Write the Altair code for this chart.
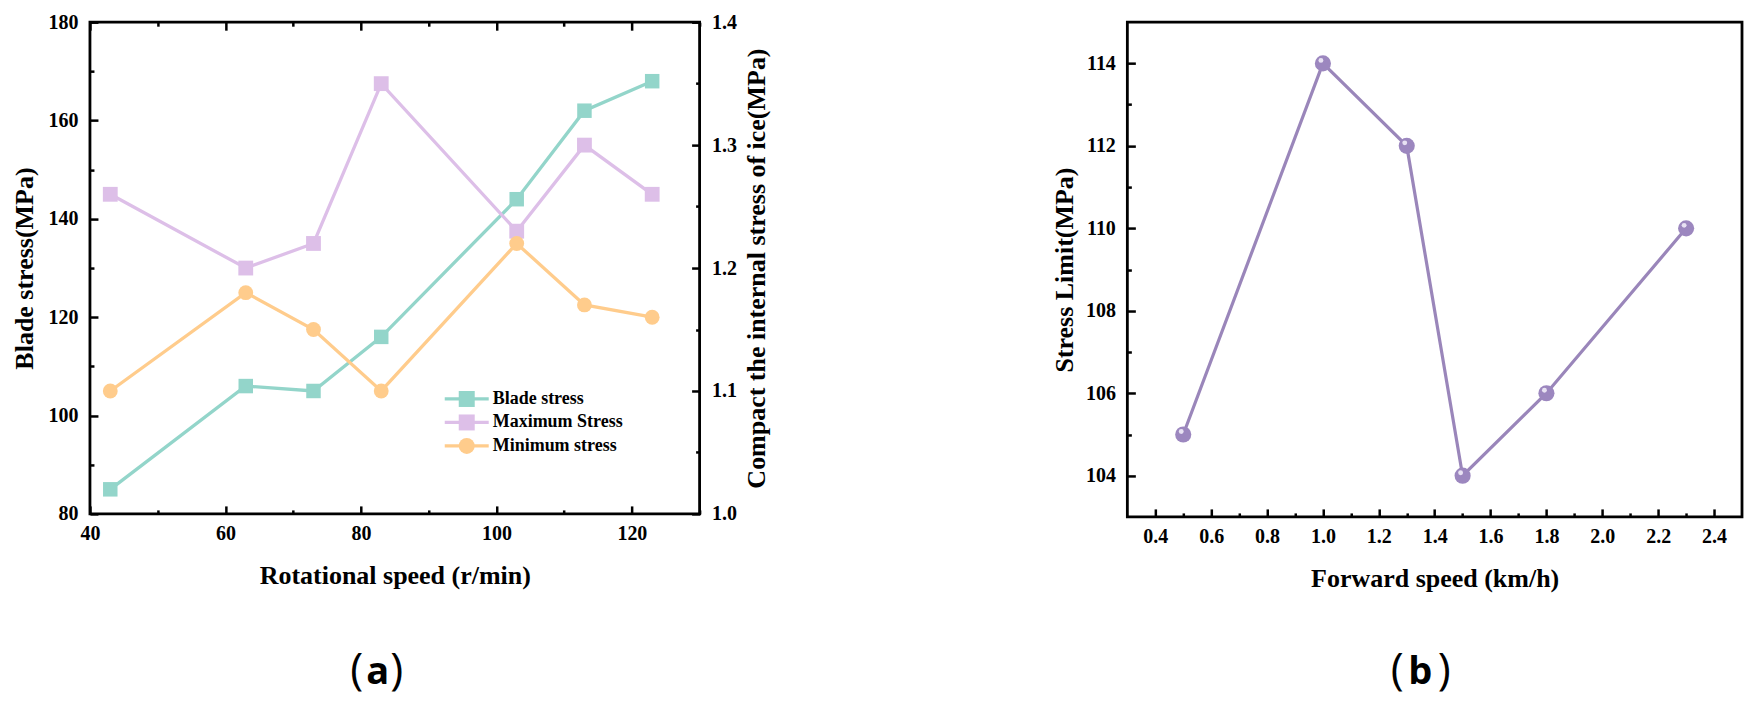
import altair as alt
import pandas as pd

# ---------------- data: panel (a) ----------------
rot_speed = [43, 63, 73, 83, 103, 113, 123]
blade_stress = [85, 106, 105, 116, 144, 162, 168]
max_ice_stress = [1.26, 1.20, 1.22, 1.35, 1.23, 1.30, 1.26]
min_ice_stress = [1.10, 1.18, 1.15, 1.10, 1.22, 1.17, 1.16]
series_names = ["Blade stress", "Maximum Stress", "Minimum stress"]
series_colors = ["#93D5CA", "#DDBFE8", "#FFCC8C"]
series_shapes = ["square", "square", "circle"]

# ---------------- data: panel (b) ----------------
fwd_speed = [0.5, 1.0, 1.3, 1.5, 1.8, 2.3]
stress_limit = [105, 114, 112, 104, 106, 110]

# ---------------- tick values ----------------
a_x_ticks = list(range(40, 131, 10))
a_yl_ticks = list(range(80, 181, 10))
a_yr_ticks = [round(1.0 + 0.05 * i, 2) for i in range(9)]
b_x_ticks = [round(0.4 + 0.1 * i, 1) for i in range(21)]
b_y_ticks = list(range(104, 115))

SERIF = "Liberation Serif"

df_blade = pd.DataFrame({"speed": rot_speed, "value": blade_stress,
                         "series": series_names[0]})
df_ice = pd.concat([
    pd.DataFrame({"speed": rot_speed, "value": max_ice_stress, "series": series_names[1]}),
    pd.DataFrame({"speed": rot_speed, "value": min_ice_stress, "series": series_names[2]}),
])
df_leg = pd.DataFrame({"series": series_names})
df_b = pd.DataFrame({"speed": fwd_speed, "limit": stress_limit})

MAJ, MIN = 8, 4


def tsize(major_expr):
    # negative size -> ticks point inward
    return {"condition": {"test": major_expr, "value": -MAJ}, "value": -MIN}


common_axis = dict(domain=False, grid=False, tickColor="black",
                   tickWidth=2.5, labelFlush=False, labelOverlap=False)

# ---- panel (a) axes ----
m20 = "datum.value % 20 == 0"
ax_a_bottom = alt.Axis(values=a_x_ticks, title="Rotational speed (r/min)",
                       labelExpr=f"{m20} ? datum.label : ''",
                       tickSize=tsize(m20), labelPadding=10 + MAJ, titlePadding=15,
                       **common_axis)
ax_a_top = alt.Axis(values=a_x_ticks, orient="top", labels=False, title=None,
                    tickSize=tsize(m20), **common_axis)
ax_a_left = alt.Axis(values=a_yl_ticks, title="Blade stress(MPa)",
                     labelExpr=f"{m20} ? datum.label : ''",
                     tickSize=tsize(m20), labelPadding=12 + MAJ, titlePadding=10,
                     **common_axis)
major_r = "abs(datum.value*10 - round(datum.value*10)) < 0.001"
ax_a_right = alt.Axis(values=a_yr_ticks, orient="right", format=".1f",
                      title="Compact the internal stress of ice(MPa)",
                      labelExpr=f"{major_r} ? datum.label : ''",
                      tickSize=tsize(major_r), labelPadding=12 + MAJ, titlePadding=7,
                      titleAngle=270, titleBaseline="top",
                      **common_axis)

x_a = alt.Scale(domain=[40, 130], nice=False, zero=False)

color_enc = alt.Color("series:N", scale=alt.Scale(domain=series_names, range=series_colors),
                      legend=None)
shape_enc = alt.Shape("series:N", scale=alt.Scale(domain=series_names, range=series_shapes),
                      legend=None)
stroke_enc = alt.Stroke("series:N", scale=alt.Scale(domain=series_names, range=series_colors),
                        legend=None)

base_blade = alt.Chart(df_blade).encode(
    x=alt.X("speed:Q", scale=x_a, axis=ax_a_bottom),
    y=alt.Y("value:Q", scale=alt.Scale(domain=[80, 180], nice=False, zero=False), axis=ax_a_left),
)
blade_layer = alt.layer(
    base_blade.mark_line(strokeWidth=3.3).encode(stroke=stroke_enc, detail="series:N"),
    base_blade.mark_point(filled=True, opacity=1, size=210).encode(color=color_enc, shape=shape_enc),
)

base_ice = alt.Chart(df_ice).encode(
    x=alt.X("speed:Q", scale=x_a, axis=ax_a_top),
    y=alt.Y("value:Q", scale=alt.Scale(domain=[1.0, 1.4], nice=False, zero=False), axis=ax_a_right),
)
ice_layer = alt.layer(
    base_ice.mark_line(strokeWidth=3.3).encode(stroke=stroke_enc, detail="series:N"),
    base_ice.mark_point(filled=True, opacity=1, size=220).encode(color=color_enc, shape=shape_enc),
)

# ---- legend built from marks ----
leg_y = alt.Y("series:N", scale=alt.Scale(type="point", domain=series_names, range=[377, 424], padding=0),
              axis=None)
leg_base = alt.Chart(df_leg).encode(y=leg_y)
legend_layer = alt.layer(
    leg_base.mark_rule(strokeWidth=3.3).encode(x=alt.value(355), x2=alt.value(399), stroke=stroke_enc),
    leg_base.mark_point(filled=True, opacity=1, size=256).encode(x=alt.value(377), color=color_enc,
                                                                 shape=shape_enc),
    leg_base.mark_text(align="left", baseline="middle", font=SERIF, fontSize=18, fontWeight="bold",
                       color="black").encode(x=alt.value(403), text="series:N"),
)

one = pd.DataFrame({"k": [0]})


def label_marks(letter, xs, y):
    paren = dict(font="Open Sans", fontSize=44, color="black", baseline="alphabetic", align="center")
    return [
        alt.Chart(one).mark_text(text="(", fontWeight="normal", **paren).encode(x=alt.value(xs[0]), y=alt.value(y)),
        alt.Chart(one).mark_text(text=letter, fontWeight="bold", **{**paren, "fontSize": 38}).encode(x=alt.value(xs[1]), y=alt.value(y)),
        alt.Chart(one).mark_text(text=")", fontWeight="normal", **paren).encode(x=alt.value(xs[2]), y=alt.value(y)),
    ]


panel_a = alt.layer(blade_layer, ice_layer, legend_layer,
                    *label_marks("a", [267, 288, 307], 662)).resolve_scale(
    x="independent", y="independent"
).properties(width=610, height=492)

# ---- panel (b) ----
major_b = "abs(datum.value*5 - round(datum.value*5)) < 0.001"
m2 = "datum.value % 2 == 0"
ax_b_bottom = alt.Axis(values=b_x_ticks, format=".1f", title="Forward speed (km/h)",
                       labelExpr=f"{major_b} ? datum.label : ''",
                       tickSize=tsize(major_b), labelPadding=10 + MAJ, titlePadding=15,
                       **common_axis)
ax_b_left = alt.Axis(values=b_y_ticks, title="Stress Limit(MPa)",
                     labelExpr=f"{m2} ? datum.label : ''",
                     tickSize=tsize(m2), labelPadding=12 + MAJ, titlePadding=8,
                     **common_axis)

base_b = alt.Chart(df_b).encode(
    x=alt.X("speed:Q", scale=alt.Scale(domain=[0.3, 2.5], nice=False, zero=False), axis=ax_b_bottom),
    y=alt.Y("limit:Q", scale=alt.Scale(domain=[103, 115], nice=False, zero=False), axis=ax_b_left),
)
panel_b = alt.layer(
    base_b.mark_line(strokeWidth=3.2, color="#9A86BA"),
    base_b.mark_point(filled=True, opacity=1, size=260, color="#9C87BF"),
    base_b.mark_point(filled=True, opacity=0.9, size=24, color="#F1ECF8", xOffset=-2, yOffset=-3),
    *label_marks("b", [270, 293, 317], 662),
).properties(width=615, height=495)

chart = alt.hconcat(panel_a, panel_b, spacing=428, bounds="flush").properties(
    padding={"left": 2, "top": 2, "right": 0, "bottom": 6},
    background="white",
).configure_view(
    stroke="black", strokeWidth=2.8
).configure_axis(
    labelFont=SERIF, labelFontSize=20, labelFontWeight="bold", labelColor="black",
    titleFont=SERIF, titleFontSize=26, titleFontWeight="bold", titleColor="black",
)

chart.save("out.html", embed_options={"renderer": "svg", "actions": False})
